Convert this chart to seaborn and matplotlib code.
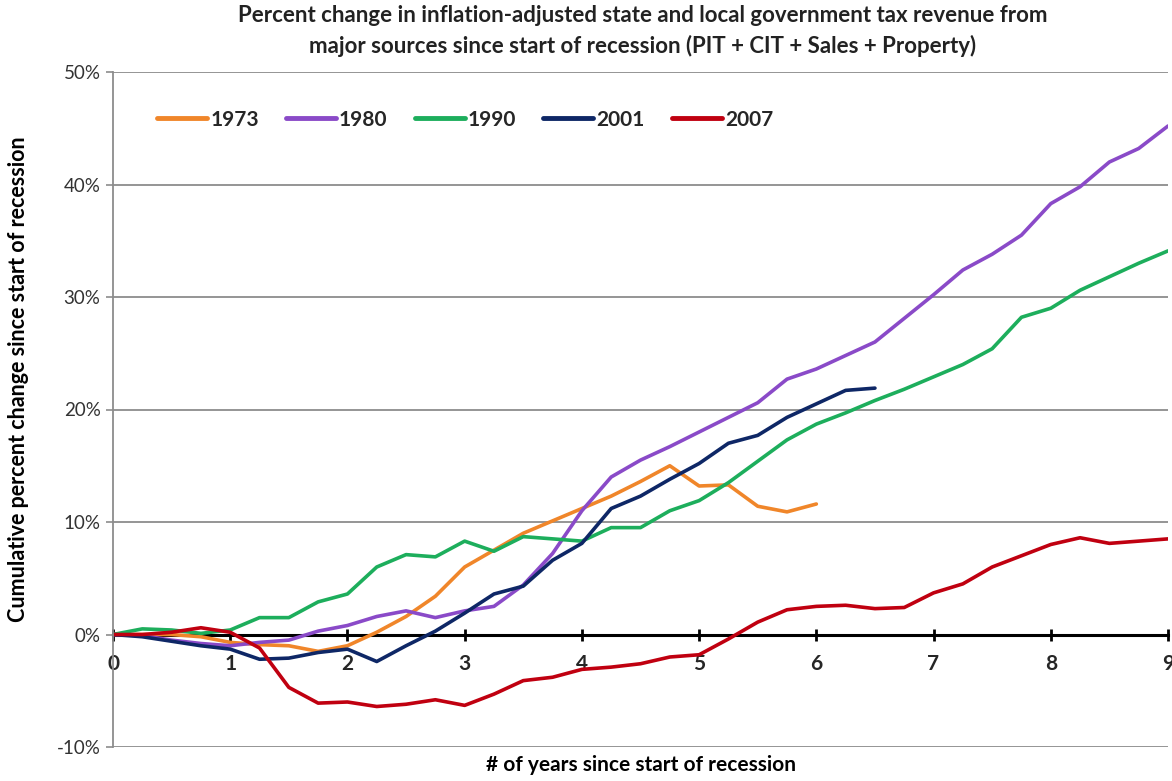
import matplotlib
matplotlib.use("Agg")
import matplotlib.pyplot as plt
import seaborn as sns
import pandas as pd

# ---- data ----
quarters = [i / 4 for i in range(37)]
series_names = ["1973", "1980", "1990", "2001", "2007"]
s1973 = [0, 0, 0, -0.2, -0.7, -0.9, -1.0, -1.5, -1.0, 0.2, 1.6, 3.4, 6.0, 7.5, 9.0,
         10.1, 11.2, 12.3, 13.6, 15.0, 13.2, 13.3, 11.4, 10.9, 11.6]
s1980 = [0, -0.1, -0.5, -0.8, -1.0, -0.7, -0.5, 0.3, 0.8, 1.6, 2.1, 1.5, 2.1, 2.5, 4.4,
         7.2, 11.0, 14.0, 15.5, 16.7, 18.0, 19.3, 20.6, 22.7, 23.6, 24.8, 26.0, 28.1,
         30.2, 32.4, 33.8, 35.5, 38.3, 39.8, 42.0, 43.2, 45.2]
s1990 = [0, 0.5, 0.4, 0.1, 0.4, 1.5, 1.5, 2.9, 3.6, 6.0, 7.1, 6.9, 8.3, 7.4, 8.7,
         8.5, 8.3, 9.5, 9.5, 11.0, 11.9, 13.5, 15.4, 17.3, 18.7, 19.7, 20.8, 21.8,
         22.9, 24.0, 25.4, 28.2, 29.0, 30.6, 31.8, 33.0, 34.1]
s2001 = [0, -0.2, -0.6, -1.0, -1.3, -2.2, -2.1, -1.6, -1.3, -2.4, -1.0, 0.3, 1.9, 3.6,
         4.3, 6.6, 8.1, 11.2, 12.3, 13.8, 15.2, 17.0, 17.7, 19.3, 20.5, 21.7, 21.9]
s2007 = [0, 0, 0.2, 0.6, 0.2, -1.2, -4.7, -6.1, -6.0, -6.4, -6.2, -5.8, -6.3, -5.3,
         -4.1, -3.8, -3.1, -2.9, -2.6, -2.0, -1.8, -0.4, 1.1, 2.2, 2.5, 2.6, 2.3, 2.4,
         3.7, 4.5, 6.0, 7.0, 8.0, 8.6, 8.1, 8.3, 8.5]
y_ticks = [-10, 0, 10, 20, 30, 40, 50]
y_tick_labels = ["-10%", "0%", "10%", "20%", "30%", "40%", "50%"]
x_ticks = [0, 1, 2, 3, 4, 5, 6, 7, 8, 9]

title = ("Percent change in inflation-adjusted state and local government tax revenue from\n"
         "major sources since start of recession (PIT + CIT + Sales + Property)")
x_label = "# of years since start of recession"
y_label = "Cumulative percent change since start of recession"

colors = {"1973": "#F0862A", "1980": "#8A4AC8", "1990": "#1DAE5C",
          "2001": "#0E2766", "2007": "#C00010"}

rows = []
for name, vals in zip(series_names, [s1973, s1980, s1990, s2001, s2007]):
    for q, v in zip(quarters, vals):
        rows.append({"year": q, "value": v, "recession": name})
df = pd.DataFrame(rows)

# ---- plot ----
sns.set_theme(style="white")
plt.rcParams["font.family"] = ["Lato", "DejaVu Sans"]

fig = plt.figure(figsize=(11.72, 7.81), dpi=100)
ax = fig.add_axes([113 / 1172, 1 - 747 / 781, 1055 / 1172, 675 / 781])

sns.lineplot(data=df, x="year", y="value", hue="recession", hue_order=series_names,
             palette=colors, linewidth=2.6, ax=ax, legend=False, sort=False)

ax.set_xlim(0, 9)
ax.set_ylim(-10, 50)
ax.set_yticks(y_ticks)
ax.set_yticklabels(y_tick_labels)
ax.set_xticks(x_ticks)
ax.set_xticklabels([str(x) for x in x_ticks])

ax.yaxis.grid(True, color="#8c8c8c", linewidth=1.3)
ax.xaxis.grid(False)
ax.set_axisbelow(True)

for side in ["top", "right"]:
    ax.spines[side].set_visible(False)
ax.spines["left"].set_color("#8c8c8c")
ax.spines["left"].set_linewidth(1.3)
ax.spines["bottom"].set_position(("data", 0))
ax.spines["bottom"].set_color("black")
ax.spines["bottom"].set_linewidth(2.2)
ax.spines["bottom"].set_zorder(1.5)

ax.tick_params(axis="x", direction="inout", length=8, width=2, color="black",
               labelsize=15, pad=10, bottom=True)
for lab in ax.get_xticklabels():
    lab.set_fontweight("bold")
ax.tick_params(axis="y", direction="out", length=5, width=1.2, color="#8c8c8c",
               labelsize=13.5, labelcolor="#333333", pad=4, left=True)

ax.set_xlabel(x_label, fontsize=15, fontweight="bold", color="black")
ax.xaxis.set_label_coords(0.5, -0.012)
ax.set_ylabel(y_label, fontsize=15.5, fontweight="bold", color="black")
ax.yaxis.set_label_coords(-0.08, 0.545)

# legend
handles = [plt.Line2D([0], [0], color=colors[n], linewidth=3.5) for n in series_names]
leg = ax.legend(handles, series_names, ncol=5, loc="upper left",
                bbox_to_anchor=(0.024, 0.972), frameon=False, handlelength=2.4,
                handletextpad=0.15, columnspacing=1.3,
                prop={"weight": "bold", "size": 15})

fig.text(0.548, 0.993, title, ha="center", va="top", fontsize=16,
         fontweight="bold", color="#222222", linespacing=1.45)

fig.savefig("out.png", dpi=100)
